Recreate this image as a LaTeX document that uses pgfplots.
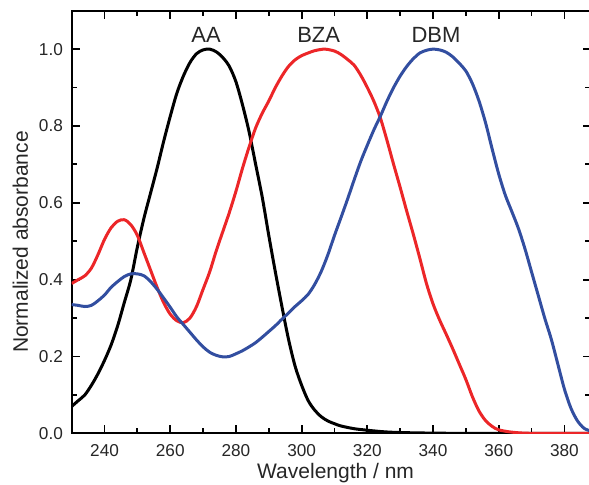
\documentclass[border=0pt]{standalone}
\usepackage{fontspec}
\setmainfont{Liberation Sans}
\usepackage{pgfplots}
\pgfplotsset{compat=1.18}
\definecolor{cred}{RGB}{236,38,40}
\definecolor{cblue}{RGB}{50,78,160}
\begin{document}
\begin{tikzpicture}
\begin{axis}[
  at={(0,0)}, anchor=south west,
  scale only axis,
  width=259.5pt, height=211.3pt,
  xmin=230, xmax=388, ymin=0, ymax=1.1,
  xtick={240,260,...,380}, minor xtick={230,250,...,390},
  ytick={0,0.2,...,1.0}, minor ytick={0.1,0.3,...,0.9},
  yticklabel style={/pgf/number format/fixed,/pgf/number format/fixed zerofill,/pgf/number format/precision=1, inner sep=0pt, xshift=-4.2pt},
  xticklabel style={inner sep=0pt, yshift=-5.3pt},
  /pgf/number format/assume math mode=true,
  tick label style={font=\fontsize{8.6}{10}\selectfont, color=black!85},
  major tick length=4pt, minor tick length=2.8pt,
  every tick/.style={line width=0.9pt, black},
  axis line style={line width=1.1pt},
  xlabel={Wavelength / nm},
  ylabel={Normalized absorbance},
  label style={font=\fontsize{10.5}{12}\selectfont, color=black!85, inner sep=0pt},
  xlabel style={at={(axis description cs:0.5,0)}, anchor=north, yshift=-15pt, xshift=2.2pt},
  ylabel style={at={(axis description cs:0,0.5)}, anchor=base, yshift=21.9pt, xshift=-10pt},
  every axis plot/.append style={line width=1.5pt, line join=round},
  clip=true,
]
% AA
\addplot[black, smooth] coordinates {
(230,0.07)(232,0.085)(234,0.10)(236,0.125)(238,0.155)(240,0.19)(242,0.23)(244,0.28)
(246,0.34)(248,0.40)(250,0.485)(252,0.56)(254,0.625)(256,0.69)(258,0.76)(260,0.825)
(262,0.885)(264,0.93)(266,0.965)(268,0.988)(270,0.998)(272,1.0)(274,0.993)(276,0.978)
(278,0.955)(280,0.915)(282,0.855)(284,0.785)(286,0.70)(288,0.615)(290,0.515)(292,0.42)
(294,0.33)(296,0.245)(298,0.175)(300,0.125)(302,0.085)(304,0.06)(306,0.043)(308,0.032)
(310,0.025)(312,0.019)(316,0.012)(320,0.008)(325,0.004)(330,0.002)(340,0.0005)(350,0)(388,0)
};
% BZA
\addplot[cred, smooth] coordinates {
(230,0.39)(232,0.40)(234,0.41)(236,0.43)(238,0.465)(240,0.505)(242,0.535)(244,0.552)
(246,0.556)(248,0.543)(250,0.515)(252,0.47)(254,0.425)(256,0.38)(258,0.34)(260,0.31)
(262,0.293)(264,0.288)(266,0.30)(268,0.33)(270,0.375)(272,0.42)(274,0.475)(276,0.525)
(278,0.575)(280,0.63)(282,0.69)(284,0.745)(286,0.795)(288,0.833)(290,0.865)(292,0.90)
(294,0.93)(296,0.955)(298,0.972)(300,0.983)(302,0.99)(304,0.996)(307,1.0)(310,0.995)
(312,0.986)(314,0.973)(316,0.958)(318,0.932)(320,0.90)(322,0.864)(324,0.82)(326,0.762)
(328,0.70)(330,0.64)(332,0.578)(334,0.518)(336,0.455)(338,0.39)(340,0.337)(342,0.295)
(344,0.258)(346,0.22)(348,0.18)(350,0.14)(352,0.095)(354,0.058)(356,0.033)(358,0.018)
(360,0.009)(364,0.003)(370,0)(388,0)
};
% DBM
\addplot[cblue, smooth] coordinates {
(230,0.335)(232,0.333)(234,0.33)(236,0.333)(238,0.345)(240,0.36)(242,0.38)(244,0.395)
(246,0.408)(248,0.415)(250,0.415)(252,0.41)(254,0.395)(256,0.375)(258,0.352)(260,0.328)
(262,0.303)(264,0.283)(266,0.263)(268,0.243)(270,0.225)(272,0.211)(274,0.203)(276,0.199)
(278,0.20)(280,0.207)(282,0.215)(284,0.225)(286,0.236)(288,0.25)(290,0.265)(292,0.28)
(294,0.297)(296,0.313)(298,0.33)(300,0.345)(302,0.362)(304,0.388)(306,0.422)(308,0.465)
(310,0.515)(312,0.562)(314,0.61)(316,0.66)(318,0.708)(320,0.75)(322,0.79)(324,0.826)
(326,0.865)(328,0.90)(330,0.93)(332,0.955)(334,0.975)(336,0.99)(338,0.997)(340,1.0)
(342,0.998)(344,0.992)(346,0.98)(348,0.963)(350,0.943)(352,0.91)(354,0.865)(356,0.808)
(358,0.74)(360,0.675)(362,0.62)(364,0.577)(366,0.533)(368,0.48)(370,0.42)(372,0.36)
(374,0.30)(376,0.245)(378,0.18)(380,0.115)(382,0.065)(384,0.032)(386,0.013)(388,0.006)
};
\node[font=\fontsize{11}{13}\selectfont, color=black!85] at (axis cs:270.9,1.036) {AA};
\node[font=\fontsize{11}{13}\selectfont, color=black!85] at (axis cs:305.2,1.036) {BZA};
\node[font=\fontsize{11}{13}\selectfont, color=black!85] at (axis cs:340.9,1.036) {DBM};
\end{axis}
\pgfresetboundingbox
\useasboundingbox (-35.85pt,-25.35pt) rectangle (258.65pt,216.65pt);
\end{tikzpicture}
\end{document}
